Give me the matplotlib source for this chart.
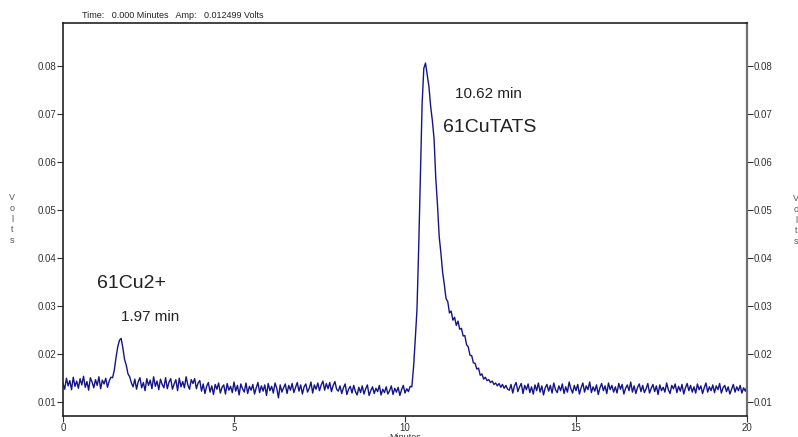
import numpy as np
import matplotlib
matplotlib.use("Agg")
import matplotlib.pyplot as plt
from matplotlib.ticker import FixedLocator, FormatStrFormatter

# Detector signal, in units of 1e-4 V, sampled every 0.05 min starting at 0 min
SAMPLE_STEP_MIN = 0.05
baseline_start = [138,126,149,133,144,125,151,132,143,128,148,135,153,130,142,
                  124,150,141,129,146,134,152,127,145,137,149,130,143,151]
peak_cu2 = [150,166,192,214,228,232,212,188,176,158,152,139]
baseline_mid = [131,147,126,142,150,129,140,123,148,134,145,127,152,132,143,125,
                147,136,129,150,127,141,148,126,137,146,123,149,131,142,129,152,
                135,126,146,138,148,127,139,144]
baseline_low = [122,137,117,132,140,120,133,115,136,126,
                139,118,130,135,116,138,124,132,119,141,
                122,134,114,137,127,120,139,117,132,124,
                136,116,129,140,119,133,122,135,113,138,
                123,132,118,139,128,108,135,120,129,137,
                117,134,124,138,119,130,140,122,135,116,
                131,137,120,128,141,118,135,126,139,123,
                135,143,124,138,127,140,121,134,142,126,
                122,133,117,129,137,115,126,132,118,134,
                121,114,130,119,133,116,127,135,113,123,
                131,117,128,121,134,114,126,119,131,116,
                123,133,115,128,120,130,113,125,134,118,
                127,121,132]
peak_cutats = [131,172,230,292,420,575,720,795,806,781,
               757,716,686,648,566,510,444,410,370,344,
               315,309,285,289,270,276,259,268,251,253,
               237,238,219,214,197,196,181,180,168,170,
               155,158,147,151,144,146,140,143,136,139,
               133,138,130,136,128,134,126]
baseline_end = [124,136,118,133,140,121,131,138,117,134,
                125,137,119,131,116,135,123,139,120,133,
                114,129,136,122,134,118,139,125,119,133,
                123,137,117,131,120,141,127,118,134,123,
                136,116,129,139,120,133,125,141,119,131,
                122,135,115,129,138,123,133,117,139,125,
                134,120,131,118,138,126,136,116,128,135,
                123,141,120,133,117,130,137,121,134,119,
                127,138,118,128,136,121,133,115,135,123,
                130,120,139,125,117,134,127,137,119,132,
                122,136,116,129,138,123,134,120,131,118,
                137,125,133,117,129,139,120,131,123,135,
                119,133,125,138,118,129,134,121,131,116,
                126,136,120,131,123,134,118,129,122,132]

x_ticks = [0, 5, 10, 15, 20]
y_ticks = [0.01, 0.02, 0.03, 0.04, 0.05, 0.06, 0.07, 0.08]
header = "Time:   0.000 Minutes   Amp:   0.012499 Volts"
labels = [("61Cu2+", 0.99, 0.0337, 14), ("1.97 min", 1.70, 0.0269, 11),
          ("10.62 min", 11.46, 0.0733, 11), ("61CuTATS", 11.11, 0.0662, 14)]

signal = np.array(baseline_start + peak_cu2 + baseline_mid + baseline_low
                  + peak_cutats + baseline_end) * 1e-4
minutes = np.arange(len(signal)) * SAMPLE_STEP_MIN

W, H = 798, 437
fig = plt.figure(figsize=(W / 100, H / 100), dpi=100)
fig.patch.set_facecolor("white")
ax = fig.add_axes([63 / W, (H - 415.7) / H, 684 / W, (415.7 - 23.3) / H])

ax.plot(minutes, signal, color="#14148a", lw=1.0)

ax.set_xlim(0, 20)
ax.set_ylim(0.00708, 0.0889)
ax.xaxis.set_major_locator(FixedLocator(x_ticks))
ax.yaxis.set_major_locator(FixedLocator(y_ticks))
ax.yaxis.set_major_formatter(FormatStrFormatter("%.2f"))

tick_font = "Liberation Sans"
ax.tick_params(axis="both", which="major", direction="out", length=4, width=0.8,
               labelsize=7, colors="#333333", pad=1)
ax.tick_params(axis="y", right=True, labelright=True)
for lab in ax.get_xticklabels() + ax.get_yticklabels():
    lab.set_fontfamily(tick_font)
for t in ax.yaxis.get_major_ticks():
    t.label2.set_fontfamily(tick_font)
    t.label2.set_fontsize(7)

for side in ["left", "bottom", "top"]:
    ax.spines[side].set_color("#222222")
    ax.spines[side].set_linewidth(1.2)
ax.spines["right"].set_color("#707070")
ax.spines["right"].set_linewidth(1.6)

for txt, xx, yy, fs in labels:
    ax.text(xx, yy, txt, fontsize=fs, family="Liberation Sans", color="#222222",
            ha="left", va="baseline")

fig.text(82 / W, 1 - 15 / H, header, fontsize=6.5, family="Liberation Sans",
         color="#222222", ha="left", va="center")
fig.text(405 / W, 1 - 432.5 / H, "Minutes", fontsize=6.5, family="Liberation Sans",
         color="#333333", ha="center", va="top")
fig.text(12 / W, 1 - 219 / H, "V\no\nl\nt\ns", fontsize=6.5, family="Liberation Sans",
         color="#555555", ha="center", va="center", linespacing=1.25)
fig.text(796 / W, 1 - 220 / H, "V\no\nl\nt\ns", fontsize=6.5, family="Liberation Sans",
         color="#555555", ha="center", va="center", linespacing=1.25)

fig.savefig("out.png", dpi=100, facecolor="white")
